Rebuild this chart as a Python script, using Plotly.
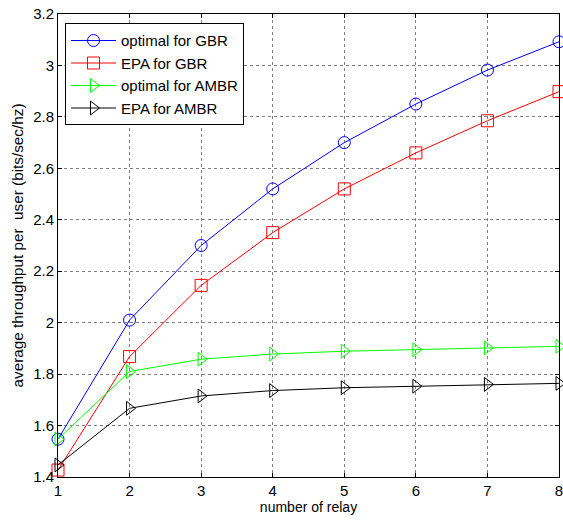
import plotly.graph_objects as go

relays = [1, 2, 3, 4, 5, 6, 7, 8]
optimal_gbr = [1.547, 2.01, 2.30, 2.52, 2.70, 2.85, 2.982, 3.092]
epa_gbr = [1.427, 1.868, 2.145, 2.35, 2.52, 2.66, 2.785, 2.898]
optimal_ambr = [1.547, 1.81, 1.858, 1.878, 1.889, 1.895, 1.902, 1.908]
epa_ambr = [1.447, 1.667, 1.715, 1.736, 1.747, 1.753, 1.760, 1.764]

series = [
    ("optimal for GBR", optimal_gbr, "#0000ff", "circle-open"),
    ("EPA for GBR", epa_gbr, "#ff0000", "square-open"),
    ("optimal for AMBR", optimal_ambr, "#00ff00", "triangle-right-open"),
    ("EPA for AMBR", epa_ambr, "#000000", "triangle-right-open"),
]

fig = go.Figure()
for name, vals, color, sym in series:
    fig.add_trace(go.Scatter(
        x=relays, y=vals, name=name, mode="lines+markers",
        line=dict(color=color, width=1),
        marker=dict(symbol=sym, size=12, color=color, line=dict(width=1, color=color)),
        cliponaxis=False,
    ))

axis_common = dict(
    showline=True, linecolor="black", linewidth=1, mirror="ticks",
    ticks="inside", ticklen=4, tickcolor="black",
    showgrid=True, gridcolor="#7f7f7f", griddash="dot", gridwidth=1,
    zeroline=False, tickfont=dict(size=15, color="black"),
    automargin=False, ticklabeloverflow="allow",
)

fig.update_layout(
    width=563, height=526,
    margin=dict(l=58, r=4, t=14, b=49),
    paper_bgcolor="white", plot_bgcolor="white",
    font=dict(family="Liberation Sans, Arial, sans-serif", color="black"),
    showlegend=True,
    legend=dict(
        x=0.014, y=0.98, xanchor="left", yanchor="top",
        bordercolor="black", borderwidth=1, bgcolor="white",
        font=dict(size=15, color="black"),
        tracegroupgap=0, itemwidth=45,
    ),
    xaxis=dict(range=[1, 8], dtick=1, title=dict(text="number of relay", font=dict(size=14), standoff=4), **axis_common),
    yaxis=dict(range=[1.4, 3.2], dtick=0.2, title=dict(text="average throughput per&nbsp; user (bits/sec/hz)", font=dict(size=15.3), standoff=5), **axis_common),
)

fig.write_html(
    "out.html",
    config={"displayModeBar": False},
    post_script="document.body.style.margin='0';document.body.style.overflow='hidden';",
)
